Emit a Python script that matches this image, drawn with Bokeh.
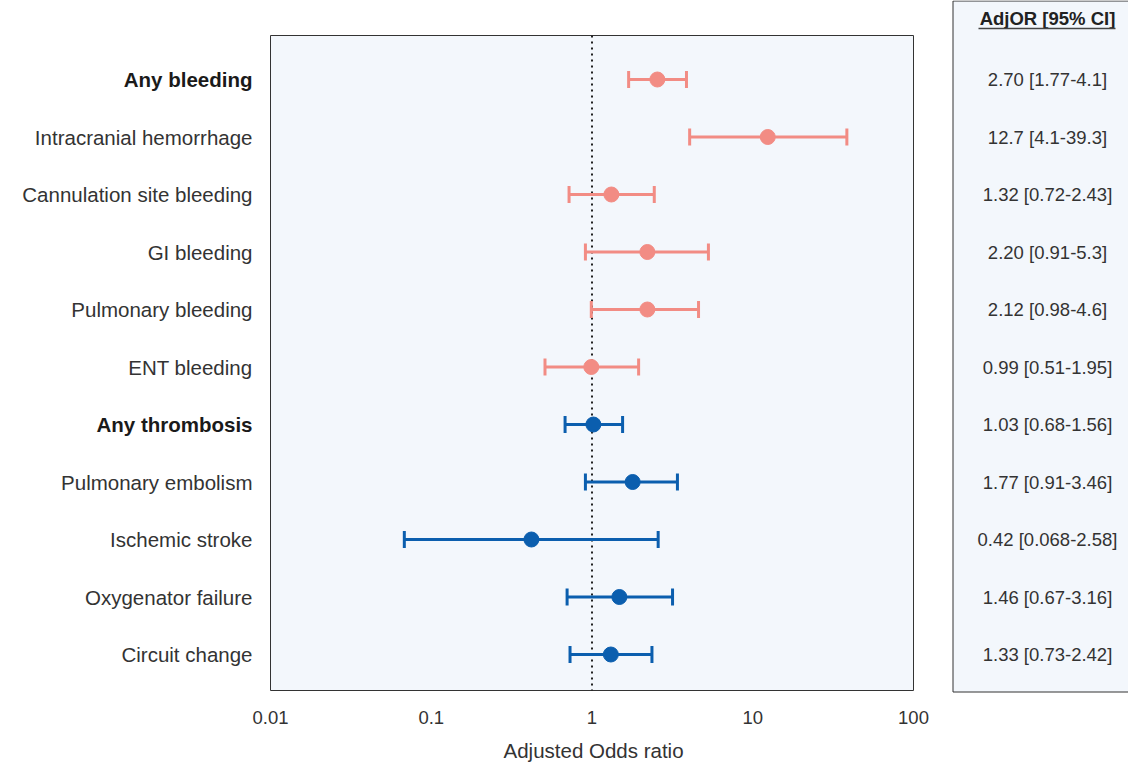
import math
from bokeh.plotting import figure
from bokeh.models import Range1d, FixedTicker, CustomJSTickFormatter, Title
from bokeh.core.properties import value
from bokeh.embed import file_html
from bokeh.resources import INLINE

# ---------------- data ----------------
outcomes = ["Any bleeding", "Intracranial hemorrhage", "Cannulation site bleeding",
            "GI bleeding", "Pulmonary bleeding", "ENT bleeding", "Any thrombosis",
            "Pulmonary embolism", "Ischemic stroke", "Oxygenator failure", "Circuit change"]
is_bold = [True, False, False, False, False, False, True, False, False, False, False]
group = ["bleeding"] * 6 + ["thrombosis"] * 5
adj_or = [2.55, 12.4, 1.32, 2.21, 2.21, 0.99, 1.02, 1.79, 0.42, 1.48, 1.31]
ci_low = [1.69, 4.05, 0.72, 0.91, 0.99, 0.51, 0.68, 0.91, 0.068, 0.70, 0.73]
ci_high = [3.87, 38.5, 2.44, 5.3, 4.6, 1.95, 1.55, 3.4, 2.58, 3.17, 2.36]
table_text = ["2.70 [1.77-4.1]", "12.7 [4.1-39.3]", "1.32 [0.72-2.43]", "2.20 [0.91-5.3]",
              "2.12 [0.98-4.6]", "0.99 [0.51-1.95]", "1.03 [0.68-1.56]", "1.77 [0.91-3.46]",
              "0.42 [0.068-2.58]", "1.46 [0.67-3.16]", "1.33 [0.73-2.42]"]
table_header = "AdjOR [95% CI]"
x_ticks = [0.01, 0.1, 1, 10, 100]
x_label = "Adjusted Odds ratio"

# ---------------- layout / style ----------------
FONT = "Liberation Sans"
BG = "#F3F7FC"
EDGE = "#333333"
COLORS = {"bleeding": "#F28C84", "thrombosis": "#0B5EAE"}
W, H = 1128, 772
FRAME_BOTTOM = 693                 # page px of frame bottom
DEC = 160.75                       # px per decade
X0_PX = 270                        # px of x = 0.01
ROW1_PX, ROW_STEP = 79, 57.5       # px of first row, px between rows


def xd(px):   # page px -> data x (log)
    return 10 ** (math.log10(x_ticks[0]) + (px - X0_PX) / DEC)


def yd(px):   # page px -> data y (row units)
    return 1 + (px - ROW1_PX) / ROW_STEP


rows_pos = list(range(1, len(outcomes) + 1))

p = figure(width=W, height=H, x_axis_type="log",
           x_range=Range1d(xd(0), xd(W)), y_range=Range1d(yd(FRAME_BOTTOM), yd(0)),
           output_backend="svg", toolbar_location=None,
           min_border_left=0, min_border_right=0, min_border_top=0,
           min_border_bottom=H - FRAME_BOTTOM)
p.background_fill_color = "white"
p.border_fill_color = "white"
p.outline_line_color = None
p.grid.visible = False
p.yaxis.visible = False

xa = p.xaxis[0]
xa.ticker = FixedTicker(ticks=x_ticks)
xa.formatter = CustomJSTickFormatter(code="return String(Number(tick.toPrecision(6)));")
xa.axis_line_color = None
xa.major_tick_line_color = None
xa.minor_tick_line_color = None
xa.major_label_text_font = FONT
xa.major_label_text_font_size = "18.5px"
xa.major_label_text_color = "#333333"
xa.major_label_standoff = 11

# axis title, placed under the centre of the plot box (not the whole frame)
p.add_layout(Title(text=x_label, align="left", offset=503,
                   standoff=20, text_font=FONT, text_font_size="20.5px",
                   text_font_style="normal", text_color="#333333"), "below")

# plot box and table panel backgrounds
box_top, box_bottom = yd(35), yd(690)
p.quad(left=[x_ticks[0]], right=[x_ticks[-1]], top=[box_top], bottom=[box_bottom],
       fill_color=BG, line_color=EDGE, line_width=1)
p.quad(left=[xd(952.5)], right=[xd(W + 20)], top=[yd(0.5)], bottom=[yd(691.5)],
       fill_color=BG, line_color=EDGE, line_width=1)

# reference line at OR = 1
p.segment(x0=[1], y0=[box_top], x1=[1], y1=[box_bottom],
          line_color="#222222", line_width=2, line_dash="2 4")

# confidence intervals and points
for g, col in COLORS.items():
    idx = [i for i, gg in enumerate(group) if gg == g]
    ys = [rows_pos[i] for i in idx]
    lo = [ci_low[i] for i in idx]
    hi = [ci_high[i] for i in idx]
    pt = [adj_or[i] for i in idx]
    p.segment(x0=lo, y0=ys, x1=hi, y1=ys, line_color=col, line_width=3)
    p.scatter(x=lo + hi, y=ys + ys, marker="dash", angle=math.pi / 2, size=17,
              line_color=col, line_width=3)
    p.scatter(x=pt, y=ys, size=15, fill_color=col, line_color=col)

# row labels
lab_x = xd(252)
for bold in (False, True):
    sel = [i for i, b in enumerate(is_bold) if b == bold]
    p.text(x=[lab_x] * len(sel), y=[rows_pos[i] for i in sel], text=[outcomes[i] for i in sel],
           text_align="right", text_baseline="middle", text_font=value(FONT),
           text_font_size="20.5px", text_font_style="bold" if bold else "normal",
           text_color="#1a1a1a" if bold else "#333333")

# table column
tab_x = xd(1047)
p.text(x=[tab_x] * len(table_text), y=rows_pos, text=table_text,
       text_align="center", text_baseline="middle",
       text_font=value(FONT), text_font_size="18.5px", text_color="#333333")
p.text(x=[tab_x], y=[yd(18)], text=[table_header], text_align="center",
       text_baseline="middle", text_font=value(FONT), text_font_size="18.5px",
       text_font_style="bold", text_color="#222222")
p.segment(x0=[xd(978)], y0=[yd(28)], x1=[xd(1115)], y1=[yd(28)],
          line_color="#444444", line_width=1.5)

open("out.html", "w").write(file_html(p, INLINE))
